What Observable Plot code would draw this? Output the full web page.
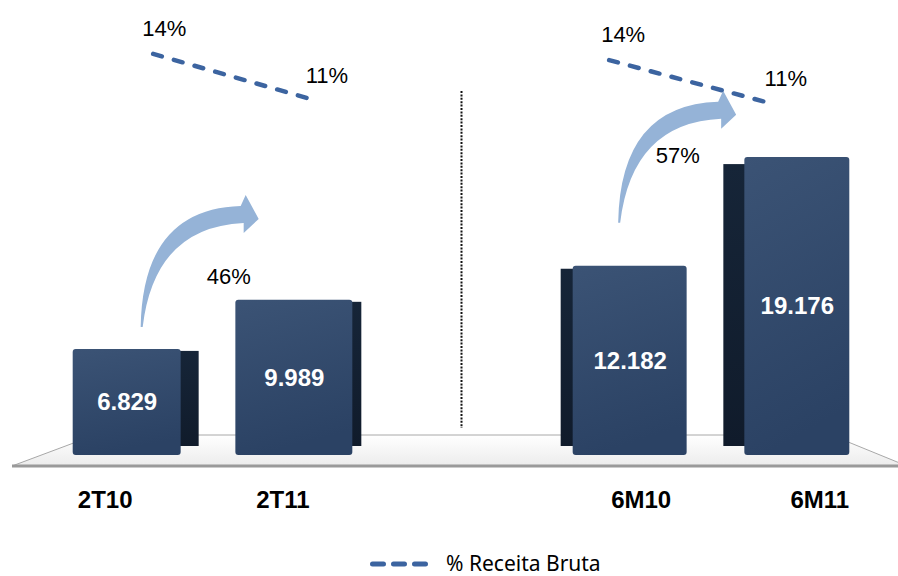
<!DOCTYPE html>
<html><head><meta charset="utf-8">
<script src="https://cdn.jsdelivr.net/npm/d3@7"></script>
<script src="https://cdn.jsdelivr.net/npm/@observablehq/plot@0.6"></script>
<style>
html,body{margin:0;padding:0;background:#fff;overflow:hidden;width:898px;height:576px}
#legend{position:relative;height:31px;width:898px}
#legend svg{position:absolute;left:370px;top:14px}
#legend span{position:absolute;left:446px;top:4px;font-family:"Noto Sans",sans-serif;font-size:21px;line-height:normal;color:#000;white-space:nowrap}
</style></head><body>
<div id="chart"></div>
<div id="legend"></div>
<script>
// ---- data ----
const categories = ["2T10", "2T11", "6M10", "6M11"];
const groups = ["2T", "2T", "6M", "6M"];
const values = [6.829, 9.989, 12.182, 19.176];
const valueLabels = ["6.829", "9.989", "12.182", "19.176"];
const pctValues = [14.0, 11.0, 13.6, 10.8];
const pctLabels = ["14%", "11%", "14%", "11%"];
const growthFrom = ["2T10", "6M10"];
const growthTo = ["2T11", "6M11"];
const growthLabels = ["46%", "57%"];
const legendLabel = "% Receita Bruta";

// ---- layout / style ----
const W = 898, H = 545, ML = 36, MR = 12, MT = 20, MB = 90;
const PAD = 0.2256;
const SEP = "sep";
const xDomain = [categories[0], categories[1], SEP, categories[2], categories[3]];
const step = (W - ML - MR) / (xDomain.length + PAD);
const bw = step * (1 - PAD);
const sideStyle = {
  "2T10": {side: "right", w: 18, top: 2},
  "2T11": {side: "right", w: 9, top: 2},
  "6M10": {side: "left", w: 12, top: 3},
  "6M11": {side: "left", w: 21, top: 7}
};
const labelDx = {"2T10": -31, "2T11": -16, "6M10": 17, "6M11": 33};
const lineDx = {"2T": 17, "6M": -15};
const pctLabelDx = {"2T": 28, "6M": -1};
const pctToY = p => p + 11.85; // secondary axis mapping
const arrowStyle = {"2T10": {dx: 5, dy: -22}, "6M10": {dx: -5.5, dy: -43}};
const growthLabelStyle = {"2T11": {dx: -70, dy: -23}, "6M11": {dx: -109, dy: -2}};
const arrowPath = "M0,0 Q2,-118 100,-121 L105,-132 L118,-108 L103,-94 L103,-104 Q14,-100 2,0 Z";
const LINE_COLOR = "#3c64a0";
const FONT = "'Liberation Sans', Arial, sans-serif";

const bars = categories.map((c, i) => ({
  cat: c, group: groups[i], value: values[i], label: valueLabels[i],
  pct: pctValues[i], pctLabel: pctLabels[i]
}));

function floorMark(index, scales, vals, dims) {
  const y0 = scales.y(0);
  const r0 = dims.marginLeft, r1 = dims.width - dims.marginRight;
  const back = y0 - 20, front = y0 + 11;
  const g = d3.create("svg:g");
  const defs = g.append("defs");
  const fg = defs.append("linearGradient").attr("id", "faceGrad").attr("x1", 0).attr("y1", 0).attr("x2", 0.2).attr("y2", 1);
  fg.append("stop").attr("offset", 0).attr("stop-color", "#3b5375");
  fg.append("stop").attr("offset", 1).attr("stop-color", "#2b4264");
  const sg = defs.append("linearGradient").attr("id", "sideGrad").attr("x1", 0).attr("y1", 0).attr("x2", 0).attr("y2", 1);
  sg.append("stop").attr("offset", 0).attr("stop-color", "#162538");
  sg.append("stop").attr("offset", 1).attr("stop-color", "#101b2b");
  const flg = defs.append("linearGradient").attr("id", "floorGrad").attr("x1", 0).attr("y1", 0).attr("x2", 0).attr("y2", 1);
  flg.append("stop").attr("offset", 0).attr("stop-color", "#ffffff");
  flg.append("stop").attr("offset", 1).attr("stop-color", "#ececec");
  const pts = [[r0 + 59, back], [r1 - 55, back], [r1 + 21, front], [r0 - 24, front]];
  g.append("path").attr("d", "M" + pts.join("L") + "Z")
    .attr("fill", "url(#floorGrad)").attr("stroke", "#a8a8a8").attr("stroke-width", 1);
  g.append("line").attr("x1", r0 - 24).attr("x2", r1 + 21).attr("y1", front).attr("y2", front)
    .attr("stroke", "#9a9a9a").attr("stroke-width", 3);
  return g.node();
}

function arrowsMark(index, scales) {
  const x = scales.x, y = scales.y, half = x.bandwidth ? x.bandwidth() / 2 : 0;
  const g = d3.create("svg:g");
  growthFrom.forEach((from) => {
    const fi = categories.indexOf(from);
    const o = arrowStyle[from];
    const tx = x(from) + half + o.dx, ty = y(values[fi]) + o.dy;
    g.append("path").attr("d", arrowPath)
      .attr("transform", `translate(${tx},${ty})`)
      .attr("fill", "#95b3d7");
  });
  return g.node();
}

const marks = [floorMark];
marks.push(Plot.ruleX([SEP], {x: d => d, stroke: "#111", strokeWidth: 2, strokeDasharray: "2,1.4", insetTop: 71, insetBottom: 27}));

for (const d of bars) {
  const s = sideStyle[d.cat];
  const right = s.side === "right";
  marks.push(Plot.barY([d], {
    x: "cat", y: "value", fill: "url(#sideGrad)",
    insetLeft: right ? bw - s.w - 1 : 0, insetRight: right ? 0 : bw - s.w - 1,
    insetTop: s.top, insetBottom: 9
  }));
  marks.push(Plot.barY([d], {
    x: "cat", y: "value", fill: "url(#faceGrad)", rx: 3,
    insetLeft: right ? 0 : s.w, insetRight: right ? s.w : 0
  }));
  marks.push(Plot.text([d], {
    x: "cat", y: v => v.value / 2, text: "label",
    dx: right ? -s.w / 2 : s.w / 2,
    fill: "#fff", fontSize: 24, fontWeight: "bold", fontFamily: FONT
  }));
}

marks.push(arrowsMark);

growthTo.forEach((to, i) => {
  const ti = categories.indexOf(to);
  const st = growthLabelStyle[to];
  marks.push(Plot.text([{cat: to, value: values[ti], label: growthLabels[i]}], {
    x: "cat", y: "value", text: "label", dx: st.dx, dy: st.dy,
    fill: "#000", fontSize: 22, fontFamily: FONT
  }));
});

for (const g of ["2T", "6M"]) {
  const gd = bars.filter(d => d.group === g);
  marks.push(Plot.line(gd, {
    x: "cat", y: d => pctToY(d.pct), dx: lineDx[g],
    stroke: LINE_COLOR, strokeWidth: 4.5, strokeDasharray: "9,12.5", strokeLinecap: "round"
  }));
  marks.push(Plot.text(gd, {
    x: "cat", y: d => pctToY(d.pct), text: "pctLabel", dx: pctLabelDx[g], dy: -25,
    fill: "#000", fontSize: 22, fontFamily: FONT
  }));
}

for (const c of categories) {
  marks.push(Plot.text([c], {
    x: d => d, frameAnchor: "bottom", dy: 52, dx: labelDx[c], text: d => d,
    fill: "#000", fontSize: 24, fontWeight: "bold", fontFamily: FONT
  }));
}

const chart = Plot.plot({
  width: W, height: H,
  marginLeft: ML, marginRight: MR, marginTop: MT, marginBottom: MB,
  x: {type: "band", domain: xDomain, padding: PAD, round: false, axis: null},
  y: {domain: [0, 28], axis: null},
  style: {background: "#fff", fontFamily: FONT, overflow: "visible"},
  marks
});
document.getElementById("chart").appendChild(chart);

const leg = document.getElementById("legend");
leg.innerHTML = `<svg width="62" height="10"><line x1="2.5" x2="57.5" y1="5" y2="5" stroke="${LINE_COLOR}" stroke-width="5" stroke-dasharray="11,10" stroke-linecap="round"/></svg><span></span>`;
leg.querySelector("span").textContent = legendLabel;
</script>
</body></html>
